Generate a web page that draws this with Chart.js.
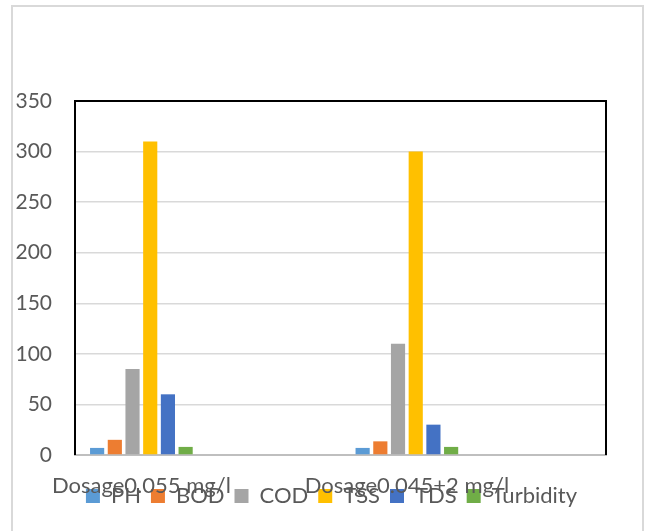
<!DOCTYPE html>
<html>
<head>
<meta charset="utf-8">
<script src="https://cdn.jsdelivr.net/npm/chart.js@4/dist/chart.umd.min.js"></script>
<style>
  html, body { margin: 0; padding: 0; background: #ffffff; }
  canvas { display: block; }
</style>
</head>
<body>
<canvas id="chart" width="646" height="531"></canvas>
<script>
// Dosage groups (the blank entries are empty category slots on the axis)
const categories = ["Dosage0.055 mg/l", "", "Dosage0.045+2 mg/l", ""];

// Water-quality parameters measured for each dosage
const seriesNames = ["PH", "BOD", "COD", "TSS", "TDS", "Turbidity"];
const phValues        = [7, null, 7, null];
const bodValues       = [15, null, 13.5, null];
const codValues       = [85, null, 110, null];
const tssValues       = [310, null, 300, null];
const tdsValues       = [60, null, 30, null];
const turbidityValues = [8, null, 8, null];

const yTicks = [0, 50, 100, 150, 200, 250, 300, 350];

const seriesColors = ["#5B9BD5", "#ED7D31", "#A5A5A5", "#FFC000", "#4472C4", "#70AD47"];
const seriesValues = [phValues, bodValues, codValues, tssValues, tdsValues, turbidityValues];

const FONT = "Lato, 'Open Sans', sans-serif";
const TEXT = "#595959";

// Light outer frame of the chart object
const outerFrame = {
  id: "outerFrame",
  beforeDraw(chart) {
    const ctx = chart.ctx;
    ctx.save();
    ctx.fillStyle = "#ffffff";
    ctx.fillRect(0, 0, chart.width, chart.height);
    ctx.strokeStyle = "#d9d9d9";
    ctx.lineWidth = 2;
    ctx.beginPath();
    ctx.moveTo(12, chart.height);
    ctx.lineTo(12, 6);
    ctx.lineTo(643, 6);
    ctx.lineTo(643, chart.height);
    ctx.stroke();
    ctx.restore();
  }
};

// The legend is laid out in the top band, then moved down so it shares
// the band under the axis with the category labels
const legendPlacement = {
  id: "legendPlacement",
  afterLayout(chart) {
    const lg = chart.legend;
    if (!lg) return;
    const dy = (chart.chartArea.bottom + 20) - lg.top;
    const dx = -9;
    lg.top += dy; lg.bottom += dy;
    lg.left += dx; lg.right += dx;
  }
};

// Black border on the left, top and right of the plot area
const plotFrame = {
  id: "plotFrame",
  afterDraw(chart) {
    const a = chart.chartArea;
    const ctx = chart.ctx;
    ctx.save();
    ctx.strokeStyle = "#000000";
    ctx.lineWidth = 2;
    ctx.beginPath();
    ctx.moveTo(a.left, a.bottom);
    ctx.lineTo(a.left, a.top);
    ctx.lineTo(a.right, a.top);
    ctx.lineTo(a.right, a.bottom);
    ctx.stroke();
    ctx.restore();
  }
};

new Chart(document.getElementById("chart"), {
  type: "bar",
  data: {
    labels: categories,
    datasets: seriesNames.map((name, i) => ({
      label: name,
      data: seriesValues[i],
      backgroundColor: seriesColors[i],
      borderWidth: 0,
      categoryPercentage: 0.8,
      barPercentage: 0.8
    }))
  },
  options: {
    responsive: false,
    devicePixelRatio: 1,
    animation: false,
    layout: { padding: { left: 12, right: 40, top: 61, bottom: 0 } },
    plugins: {
      legend: {
        position: "top",
        fullSize: false,
        maxHeight: 40,
        labels: {
          boxWidth: 14,
          boxHeight: 14,
          padding: 10,
          color: TEXT,
          font: { family: FONT, size: 22 }
        }
      },
      tooltip: { enabled: false }
    },
    scales: {
      x: {
        grid: { display: false, drawTicks: false },
        border: { display: true, color: "#bfbfbf", width: 2 },
        ticks: {
          color: TEXT,
          font: { family: FONT, size: 22 },
          padding: 18,
          maxRotation: 0,
          autoSkip: false
        },
        afterFit(scale) { scale.height = 76; }
      },
      y: {
        min: 0,
        max: 350,
        afterBuildTicks(scale) { scale.ticks = yTicks.map(v => ({ value: v })); },
        grid: { color: "#d9d9d9", lineWidth: 1.5, drawTicks: false },
        border: { display: false },
        ticks: {
          color: TEXT,
          font: { family: FONT, size: 21 },
          padding: 23
        },
        afterFit(scale) { scale.width = 63; }
      }
    }
  },
  plugins: [outerFrame, legendPlacement, plotFrame]
});
</script>
</body>
</html>
